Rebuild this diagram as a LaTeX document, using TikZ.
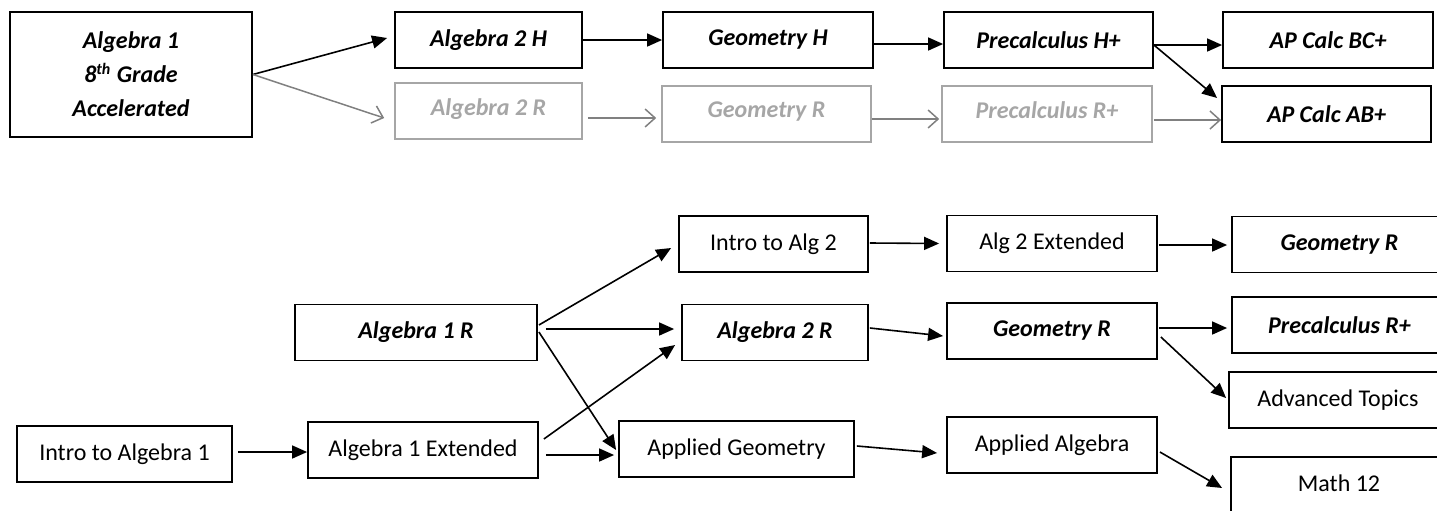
\documentclass[tikz,border=0pt]{standalone}
\usepackage{fontspec}
\setmainfont{Carlito}
\usetikzlibrary{arrows.meta,calc}
\newcommand\reg{\fontsize{12}{17}\selectfont}
\newcommand\hon{\fontsize{12}{17}\selectfont\bfseries\itshape}

\begin{document}
\begin{tikzpicture}[x=0.5pt,y=-0.5pt,
  box/.style={draw,line width=0.9pt,inner sep=0,minimum height=28pt,align=center},
  faded/.style={draw=black!35,text=black!35,line width=0.8pt},
  go/.style={-{Triangle[length=7.5pt,width=6.5pt]},line width=0.8pt},
  goff/.style={-{Straight Barb[length=5pt,width=9pt]},line width=0.75pt,black!50}]
\useasboundingbox (0,0) rectangle (1437,510);
% accelerated track
\node[box,font=\hon,minimum width=121pt,minimum height=62.5pt] (acc) at (131,74.5) {Algebra 1\\8\textsuperscript{th} Grade\\Accelerated};
\foreach \n/\x/\y/\w/\t in {a2h/488.5/40/93.5/Algebra 2 H, geoh/768/40/105/Geometry H,
    preh/1048.5/40/104.5/Precalculus H+, bc/1328/40/105/AP Calc BC+, ab/1326.5/114/104.5/AP Calc AB+}
  \node[box,font=\hon,minimum width=\w pt] (\n) at (\x,\y) {\t};
\foreach \n/\x/\y/\w/\t in {a2r/488.5/111/93.5/Algebra 2 R, geor/766.5/114/104.5/Geometry R,
    prer/1047/114/105/Precalculus R+}
  \node[box,faded,font=\hon,minimum width=\w pt,text depth=4pt] (\n) at (\x,\y) {\t};
% regular track
\foreach \n/\x/\y/\w/\t in {a1r/416/332.5/121/Algebra 1 R, a2rr/775/332.5/93/Algebra 2 R,
    geomid/1052/331/105/Geometry R, geotop/1339.5/244.5/107.5/Geometry R, prerr/1339.5/325/107.5/Precalculus R+}
  \node[box,font=\hon,minimum width=\w pt] (\n) at (\x,\y) {\t};
\foreach \n/\x/\y/\w/\t in {introa2/773.5/244/94.5/Intro to Alg 2, a2ext/1052/243.5/105/Alg 2 Extended,
    adv/1338/400/109/Advanced Topics, introa1/124.5/454/107.5/Intro to Algebra 1,
    a1ext/423/450/115/Algebra 1 Extended, appgeo/736.5/449/117.5/Applied Geometry,
    appalg/1052/445/105/Applied Algebra}
  \node[box,font=\reg,minimum width=\w pt] (\n) at (\x,\y) {\t};
\node[box,font=\reg,minimum width=108pt,minimum height=36pt,text depth=10pt] (math12) at (1339,493) {Math 12};

\draw[go] (acc.east) -- ($(a2h.west)+(-7,-2)$);
\draw[goff] (acc.east) -- ($(a2r.west)+(-10,7)$);
\draw[go] (a2h) -- (geoh);
\draw[go] ($(geoh.east)+(0,4)$) -- ($(preh.west)+(0,4)$);
\draw[go] ($(preh.east)+(0,5)$) -- ($(bc.west)+(0,5)$);
\draw[go] ($(preh.east)+(0,5)$) -- ($(ab.west)+(-4,-16)$);
\draw[goff] ($(a2r.east)+(5,7)$) -- ($(geor.west)+(-5,4)$);
\draw[goff] ($(geor.east)+(0,5)$) -- ($(prer.west)+(-2,5)$);
\draw[goff] ($(prer.east)+(1,6)$) -- ($(ab.west)+(0,6)$);

\draw[go] ($(introa1.east)+(5,-2)$) -- ($(a1ext.west)+(0,2)$);
\draw[go] ($(a1r.east)+(1,-7.5)$) -- ($(introa2.west)+(-7,4)$);
\draw[go] ($(a1r.east)+(8,-3.5)$) -- ($(a2rr.west)+(-7,-3.5)$);
\draw[go] ($(a1r.east)+(1,-0.5)$) -- ($(appgeo.west)+(-2,1)$);
\draw[go] ($(a1ext.east)+(5,-11)$) -- ($(a2rr.west)+(-6,12.5)$);
\draw[go] ($(a1ext.east)+(7,5)$) -- ($(appgeo.west)+(-4,6)$);
\draw[go] ($(introa2.east)+(1,-1)$) -- ($(a2ext.west)+(-7,0)$);
\draw[go] ($(a2rr.east)+(1,-4.5)$) -- ($(geomid.west)+(-3,5)$);
\draw[go] ($(geomid.east)+(1,-3)$) -- ($(prerr.west)+(-4,3)$);
\draw[go] ($(geomid.east)+(3,6)$) -- ($(adv.west)+(-2,-2)$);
\draw[go] ($(a2ext.east)+(1,1.5)$) -- ($(geotop.west)+(-4,0.5)$);
\draw[go] ($(appgeo.east)+(2,-3)$) -- ($(appalg.west)+(-9,8)$);
\draw[go] ($(appalg.east)+(2,7)$) -- ($(math12.west)+(-8,-5)$);
\end{tikzpicture}
\end{document}
